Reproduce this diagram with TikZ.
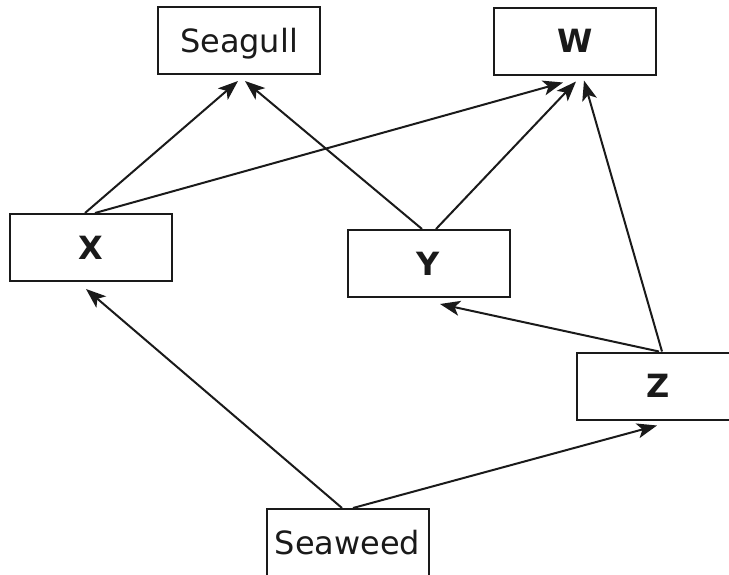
\documentclass[tikz,border=0pt]{standalone}
\usepackage{fontspec}
\setmainfont{DejaVu Sans}
\usetikzlibrary{arrows.meta}
\definecolor{ink}{HTML}{1A1A1A}
\tikzset{
  box/.style={draw=ink, line width=2pt, minimum width=162pt, minimum height=67pt,
    inner sep=0pt, text height=23pt, text depth=0pt,
    font=\fontsize{32}{38}\selectfont, text=ink},
  boldbox/.style={box, font=\fontsize{32}{38}\selectfont\bfseries},
  link/.style={draw=ink, line width=2pt, -{Stealth[length=20pt,width=15pt,inset=5pt]}}
}
\begin{document}
\begin{tikzpicture}[x=1pt,y=-1pt]
\useasboundingbox (0,0) rectangle (729,574);
\clip (0,0) rectangle (729,574);
\node[box]     (seagull) at (239,40.5)  {Seagull};
\node[boldbox] (w)       at (575,41)    {W};
\node[boldbox] (x)       at (90.5,247.5) {X};
\node[boldbox] (y)       at (428.5,263.5) {Y};
\node[boldbox] (z)       at (658,386)   {Z};
\node[box]     (seaweed) at (347.5,542.5) {Seaweed};

\draw[link] ([xshift=-5.5pt]x.north) -- ([xshift=-1pt,yshift=-6pt]seagull.south);
\draw[link] ([xshift=-6.5pt]y.north) -- ([xshift=6pt,yshift=-6pt]seagull.south);
\draw[link] ([xshift=4.5pt]x.north) -- ([xshift=-12pt,yshift=-7pt]w.south);
\draw[link] ([xshift=7.5pt]y.north) -- ([xshift=1pt,yshift=-6pt]w.south);
\draw[link] ([xshift=4pt]z.north) -- ([xshift=9pt,yshift=-5pt]w.south);
\draw[link] ([xshift=1pt]z.north) -- ([xshift=11.5pt,yshift=-6pt]y.south);
\draw[link] ([xshift=-5.5pt]seaweed.north) -- ([xshift=-4.5pt,yshift=-7pt]x.south);
\draw[link] ([xshift=5.5pt]seaweed.north) -- ([xshift=-1pt,yshift=-5pt]z.south);
\end{tikzpicture}
\end{document}
